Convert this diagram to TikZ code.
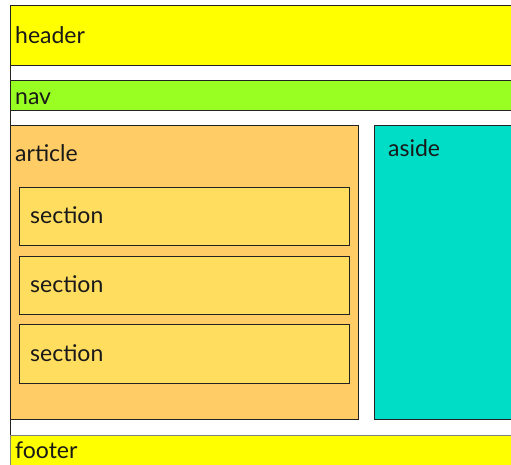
\documentclass[tikz,border=0pt]{standalone}
\usepackage{fontspec}
\setmainfont{Lato}
\definecolor{hdr}{HTML}{FFFF00}
\definecolor{navc}{HTML}{99FF22}
\definecolor{artc}{HTML}{FFCC66}
\definecolor{secc}{HTML}{FFDD5E}
\definecolor{asc}{HTML}{00DDC6}
\definecolor{edge}{HTML}{222222}
\begin{document}
\begin{tikzpicture}[x=1pt,y=-1pt,
  box/.style={draw=edge,line width=1pt},
  lbl/.style={anchor=base west,inner sep=0pt,font=\fontsize{23}{27}\selectfont,text=black!90}]
\useasboundingbox (0,0) rectangle (511,465);
\clip (0,0) rectangle (511,465);
\fill[white] (0,0) rectangle (511,465);
\draw[box] (10.5,5.5) rectangle (530,500);
\draw[box,fill=hdr] (10.5,5.5) rectangle (530,65.5);
\draw[box,fill=navc] (10.5,80.5) rectangle (530,110.5);
\draw[box,fill=artc] (10.5,125.5) rectangle (358.5,419.5);
\draw[box,fill=asc] (374.5,125.5) rectangle (530,419.5);
\draw[box,fill=secc] (19.5,187.5) rectangle (349.5,245.5);
\draw[box,fill=secc] (19.5,256.5) rectangle (349.5,314.5);
\draw[box,fill=secc] (19.5,324.5) rectangle (349.5,383.5);
\draw[draw=gray,line width=1pt,fill=hdr] (10.5,435.5) rectangle (530,500);
\node[lbl] (h) at (15,44) {header};
\node[lbl] (n) at (15,105) {nav};
\node[lbl] (a) at (15,162) {article};
\node[lbl] (s1) at (30,223) {section};
\node[lbl] (s2) at (30,292) {section};
\node[lbl] (s3) at (30,361) {section};
\node[lbl] (as) at (388,157) {aside};
\node[lbl] (f) at (15,458) {footer};
\end{tikzpicture}
\end{document}
